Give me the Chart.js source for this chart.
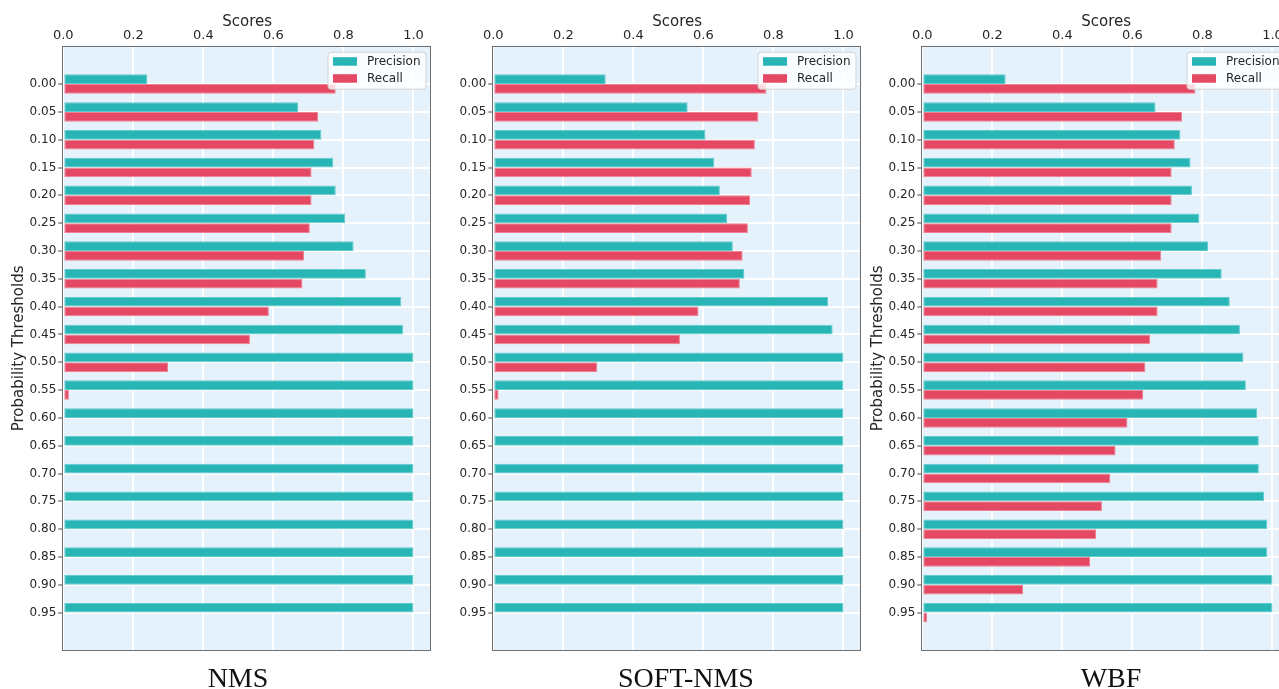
<!DOCTYPE html>
<html lang="en">
<head>
    <meta charset="UTF-8">
    <title>Precision / Recall by Probability Threshold</title>
    <script src="https://cdn.jsdelivr.net/npm/chart.js"></script>
    <style>
        body {
          margin: 0;
          background: #ffffff;
        }

        #figure {
          position: relative;
          width: 1279px;
          height: 689px;
          overflow: hidden;
        }

        #figure canvas {
          position: absolute;
          top: 0;
        }

        .caption {
          position: absolute;
          top: 664px;
          width: 240px;
          text-align: center;
          font-family: "Liberation Serif", "Times New Roman", serif;
          font-size: 28px;
          line-height: 28px;
          color: #111;
        }
    </style>
</head>
<body>
    <div id="figure">
        <canvas id="nmsChart" width="432" height="689" style="left: 0px;"></canvas>
        <canvas id="softChart" width="432" height="689" style="left: 430px;"></canvas>
        <canvas id="wbfChart" width="432" height="689" style="left: 859px;"></canvas>
        <div class="caption" style="left: 118px;">NMS</div>
        <div class="caption" style="left: 566px;">SOFT-NMS</div>
        <div class="caption" style="left: 991px;">WBF</div>
    </div>
    <script>
        // Probability thresholds (y categories) and score ticks (x axis)
        const thresholds = [0.00, 0.05, 0.10, 0.15, 0.20, 0.25, 0.30, 0.35, 0.40, 0.45,
                            0.50, 0.55, 0.60, 0.65, 0.70, 0.75, 0.80, 0.85, 0.90, 0.95];
        const scoreTicks = [0.0, 0.2, 0.4, 0.6, 0.8, 1.0];

        // NMS
        const nmsPrecision = [0.240, 0.671, 0.737, 0.771, 0.778, 0.805, 0.829, 0.864, 0.965, 0.970,
                              1.000, 1.000, 1.000, 1.000, 1.000, 1.000, 1.000, 1.000, 1.000, 1.000];
        const nmsRecall    = [0.778, 0.728, 0.717, 0.709, 0.709, 0.704, 0.688, 0.683, 0.587, 0.533,
                              0.299, 0.016, 0, 0, 0, 0, 0, 0, 0, 0];

        // SOFT-NMS
        const softPrecision = [0.321, 0.555, 0.606, 0.631, 0.647, 0.668, 0.684, 0.717, 0.956, 0.969,
                               1.000, 1.000, 1.000, 1.000, 1.000, 1.000, 1.000, 1.000, 1.000, 1.000];
        const softRecall    = [0.780, 0.757, 0.747, 0.738, 0.733, 0.727, 0.712, 0.704, 0.586, 0.533,
                               0.297, 0.015, 0, 0, 0, 0, 0, 0, 0, 0];

        // WBF
        const wbfPrecision = [0.238, 0.666, 0.737, 0.766, 0.770, 0.791, 0.816, 0.855, 0.878, 0.907,
                              0.917, 0.924, 0.956, 0.961, 0.961, 0.976, 0.985, 0.985, 1.000, 1.000];
        const wbfRecall    = [0.780, 0.742, 0.721, 0.712, 0.712, 0.712, 0.682, 0.672, 0.672, 0.651,
                              0.637, 0.631, 0.586, 0.552, 0.537, 0.513, 0.496, 0.479, 0.288, 0.014];

        const teal = '#28b5b6';
        const tealEdge = '#62cccc';
        const red = '#e54862';
        const redEdge = '#ee8294';

        Chart.defaults.font.family = '"DejaVu Sans", sans-serif';
        Chart.defaults.color = '#262626';

        // Plot background, frame and a matplotlib style legend box
        const panelDeco = {
            id: 'panelDeco',
            beforeDraw(chart) {
                const {ctx, chartArea: a} = chart;
                ctx.save();
                ctx.fillStyle = '#e5f2fc';
                ctx.fillRect(a.left, a.top, a.right - a.left, a.bottom - a.top);
                ctx.restore();
            },
            afterDraw(chart) {
                const {ctx, chartArea: a} = chart;
                ctx.save();
                ctx.strokeStyle = '#6f6f6f';
                ctx.lineWidth = 1;
                ctx.strokeRect(Math.round(a.left) - 0.5, Math.round(a.top) + 0.5,
                               Math.round(a.right - a.left), Math.round(a.bottom - a.top) - 1);

                // legend
                const w = 98, h = 37;
                const bx = a.right - 5 - w, by = a.top + 6.5;
                ctx.beginPath();
                ctx.roundRect(bx, by, w, h, 3);
                ctx.fillStyle = 'rgba(255, 255, 255, 0.8)';
                ctx.fill();
                ctx.strokeStyle = '#d2d2d2';
                ctx.stroke();
                ctx.font = '12px "DejaVu Sans"';
                ctx.textBaseline = 'middle';
                chart.data.datasets.forEach((ds, i) => {
                    const rowY = by + 9.5 + i * 17;
                    ctx.fillStyle = ds.backgroundColor;
                    ctx.fillRect(bx + 5, rowY - 4.5, 24, 8.5);
                    ctx.fillStyle = '#262626';
                    ctx.fillText(ds.label, bx + 39, rowY + 0.5);
                });
                ctx.restore();
            }
        };

        function makePanel(canvasId, precision, recall, showYTitle) {
            const ctx = document.getElementById(canvasId).getContext('2d');
            return new Chart(ctx, {
                type: 'bar',
                data: {
                    datasets: [{
                        label: 'Precision',
                        data: thresholds.map((t, i) => ({x: precision[i], y: t})),
                        backgroundColor: teal,
                        borderColor: tealEdge,
                        borderWidth: 1,
                        borderSkipped: false
                    }, {
                        label: 'Recall',
                        data: thresholds.map((t, i) => ({x: recall[i], y: t})),
                        backgroundColor: red,
                        borderColor: redEdge,
                        borderWidth: 1,
                        borderSkipped: false
                    }]
                },
                options: {
                    indexAxis: 'y',
                    responsive: false,
                    animation: false,
                    categoryPercentage: 0.7,
                    barPercentage: 1.0,
                    layout: {
                        padding: {top: 0, left: 0, right: 1, bottom: 38}
                    },
                    plugins: {
                        legend: {display: false},
                        tooltip: {enabled: false}
                    },
                    scales: {
                        x: {
                            type: 'linear',
                            position: 'top',
                            min: 0,
                            max: 1.05,
                            afterBuildTicks: (scale) => {
                                scale.ticks = scoreTicks.map(v => ({value: v}));
                            },
                            afterFit: (scale) => {
                                scale.height = 45.7;
                            },
                            ticks: {
                                padding: 2,
                                font: {size: 13},
                                callback: (v) => Number(v).toFixed(1)
                            },
                            grid: {
                                color: '#ffffff',
                                lineWidth: 2,
                                drawTicks: false
                            },
                            border: {display: false},
                            title: {
                                display: true,
                                text: 'Scores',
                                font: {size: 15},
                                padding: {top: 13, bottom: 0}
                            }
                        },
                        y: {
                            type: 'linear',
                            reverse: true,
                            offset: false,
                            min: -0.069,
                            max: 1.019,
                            afterBuildTicks: (scale) => {
                                scale.ticks = thresholds.map(v => ({value: v}));
                            },
                            afterFit: (scale) => {
                                scale.width = 63.3;
                            },
                            ticks: {
                                padding: 2,
                                font: {size: 12},
                                callback: (v) => Number(v).toFixed(2)
                            },
                            grid: {
                                offset: false,
                                color: '#ffffff',
                                lineWidth: 2,
                                drawTicks: true,
                                tickLength: 5,
                                tickColor: '#444444',
                                tickWidth: 1
                            },
                            border: {display: false},
                            title: {
                                display: showYTitle,
                                text: 'Probability Thresholds',
                                font: {size: 15},
                                padding: {top: 10, bottom: 0}
                            }
                        }
                    }
                },
                plugins: [panelDeco]
            });
        }

        makePanel('nmsChart', nmsPrecision, nmsRecall, true);
        makePanel('softChart', softPrecision, softRecall, false);
        makePanel('wbfChart', wbfPrecision, wbfRecall, true);
    </script>
</body>
</html>
